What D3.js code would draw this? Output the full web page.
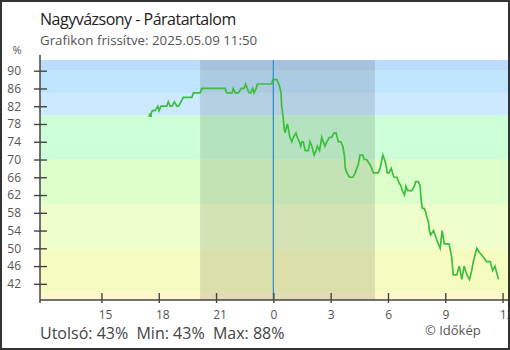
<!DOCTYPE html>
<html>
<head>
<meta charset="utf-8">
<script src="https://cdn.jsdelivr.net/npm/d3@7"></script>
<style>
  html, body { margin: 0; padding: 0; background: #fff; }
  svg { display: block; font-family: "Open Sans", "Noto Sans", sans-serif; }
</style>
</head>
<body>
<svg id="chart" width="510" height="350"></svg>
<script>
// Relative humidity readings, Nagyvázsony (local time, %)
const times = [
  "05-08 17:33","05-08 17:40","05-08 17:48","05-08 17:57","05-08 18:01","05-08 18:07","05-08 18:25","05-08 18:30",
  "05-08 18:36","05-08 18:42","05-08 18:49","05-08 18:57","05-08 19:02","05-08 19:10","05-08 19:17","05-08 19:44",
  "05-08 19:49","05-08 20:10","05-08 20:15","05-08 21:28","05-08 21:34","05-08 21:50","05-08 21:54","05-08 22:00",
  "05-08 22:10","05-08 22:19","05-08 22:28","05-08 22:33","05-08 22:38","05-08 22:44","05-08 22:49","05-08 22:55",
  "05-08 22:59","05-08 23:06","05-08 23:10","05-08 23:55","05-08 23:58","05-09 00:11","05-09 00:17","05-09 00:21",
  "05-09 00:24","05-09 00:26","05-09 00:30","05-09 00:34","05-09 00:37","05-09 00:40","05-09 00:44","05-09 00:47",
  "05-09 00:52","05-09 00:58","05-09 01:03","05-09 01:11","05-09 01:15","05-09 01:22","05-09 01:26","05-09 01:30",
  "05-09 01:34","05-09 01:40","05-09 01:50","05-09 01:55","05-09 02:01","05-09 02:08","05-09 02:14","05-09 02:18",
  "05-09 02:25","05-09 02:32","05-09 02:37","05-09 02:42","05-09 02:48","05-09 02:56","05-09 03:03","05-09 03:11",
  "05-09 03:17","05-09 03:24","05-09 03:32","05-09 03:38","05-09 03:43","05-09 03:46","05-09 03:51","05-09 03:59",
  "05-09 04:10","05-09 04:17","05-09 04:22","05-09 04:27","05-09 04:32","05-09 04:41","05-09 04:45","05-09 04:53",
  "05-09 05:02","05-09 05:09","05-09 05:14","05-09 05:29","05-09 05:35","05-09 05:41","05-09 05:44","05-09 05:49",
  "05-09 05:53","05-09 05:58","05-09 06:03","05-09 06:10","05-09 06:14","05-09 06:19","05-09 06:28","05-09 06:33",
  "05-09 06:41","05-09 06:45","05-09 06:52","05-09 06:56","05-09 07:02","05-09 07:09","05-09 07:15","05-09 07:23",
  "05-09 07:27","05-09 07:35","05-09 07:41","05-09 07:44","05-09 07:48","05-09 07:54","05-09 07:59","05-09 08:02",
  "05-09 08:07","05-09 08:10","05-09 08:14","05-09 08:23","05-09 08:28","05-09 08:33","05-09 08:38","05-09 08:44",
  "05-09 08:50","05-09 08:57","05-09 09:12","05-09 09:20","05-09 09:25","05-09 09:36","05-09 09:44","05-09 09:52",
  "05-09 09:59","05-09 10:08","05-09 10:16","05-09 10:23","05-09 10:28","05-09 10:39","05-09 10:48","05-09 11:00",
  "05-09 11:10","05-09 11:21","05-09 11:29","05-09 11:36","05-09 11:47"
];
const humidity = [
  80,81,81,82,81,82,82,83,
  82,82,83,82,82,83,84,84,
  85,85,86,86,85,85,86,85,
  85,86,86,87,86,85,85,86,
  85,86,87,87,88,88,87,86,
  85,82,80,77,76,77,78,77,
  75,74,75,76,75,74,73,74,
  74,72,72,74,73,71,72,73,
  72,75,74,73,74,75,75,76,
  76,74,74,73,71,68,67,66,
  66,67,68,69,71,71,70,70,
  69,68,67,67,68,70,71,70,
  69,67,67,68,67,66,66,65,
  64,63,62,64,63,63,63,64,
  65,65,64,61,59,59,58,57,
  56,54,53,54,53,52,51,50,
  54,51,51,48,44,44,46,43,
  46,44,43,45,47,50,49,48,
  47,47,45,46,43
];

// Humidity bands behind the plot (lower bound of each band and its fill)
const bandLows   = [0, 40, 50, 60, 70, 80, 85, 90];
const bandColors = ["#fff6cc", "#f6fcc0", "#eeffcc", "#ddffcc", "#ccffd7", "#cce9ff", "#bfe4fd", "#bbdcfa"];

const yTicks = [42, 46, 50, 54, 58, 62, 66, 70, 74, 78, 82, 86, 90];
const xTickHours = ["05-08 15:00","05-08 18:00","05-08 21:00","05-09 00:00","05-09 03:00","05-09 06:00","05-09 09:00","05-09 12:00"];

const nightStart = "05-08 20:10";
const nightEnd   = "05-09 05:19";
const midnight   = "05-09 00:00";
const viewStart  = "05-08 11:47";
const viewEnd    = "05-09 12:17";

const parse = d3.timeParse("%Y-%m-%d %H:%M");
const t = s => parse("2025-" + s);

const series = times.map((s, i) => ({ time: t(s), value: humidity[i] }));

const svg = d3.select("#chart");
const plotL = 40, plotR = 508, plotT = 60, plotB = 300;

const x = d3.scaleTime().domain([t(viewStart), t(viewEnd)]).range([plotL, plotR]);
const y = d3.scaleLinear().domain([38.36, 92.41]).range([plotB, plotT]);

// Background bands
const plot = svg.append("g");
bandLows.forEach((lo, i) => {
  const hi = i + 1 < bandLows.length ? bandLows[i + 1] : 200;
  const y0 = Math.min(plotB, y(lo));
  const y1 = Math.max(plotT, y(hi));
  if (y0 > y1) {
    plot.append("rect")
      .attr("x", plotL).attr("y", y1)
      .attr("width", plotR - plotL).attr("height", y0 - y1)
      .attr("fill", bandColors[i]);
  }
});

// Night shading
plot.append("rect")
  .attr("x", x(t(nightStart))).attr("y", plotT)
  .attr("width", x(t(nightEnd)) - x(t(nightStart)))
  .attr("height", plotB - plotT)
  .attr("fill", "#000").attr("fill-opacity", 0.11);

// Midnight marker
plot.append("line")
  .attr("x1", x(t(midnight))).attr("x2", x(t(midnight)))
  .attr("y1", plotT).attr("y2", plotB)
  .attr("stroke", "#3a8fc6").attr("stroke-width", 1.3);

// Humidity line
const line = d3.line().x(d => x(d.time)).y(d => y(d.value));
plot.append("path")
  .datum(series)
  .attr("d", line)
  .attr("fill", "none")
  .attr("stroke", "#3dbf3d")
  .attr("stroke-width", 1.7)
  .attr("stroke-linejoin", "miter");

plot.append("rect")
  .attr("x", x(series[0].time) - 1.6).attr("y", y(series[0].value) - 1.6)
  .attr("width", 3.4).attr("height", 3.4)
  .attr("fill", "#3dbf3d");

// Y axis
const yAxis = svg.append("g")
  .attr("transform", `translate(${plotL},0)`)
  .call(d3.axisLeft(y).tickValues(yTicks).tickSize(6).tickPadding(13));
yAxis.select(".domain").remove();
yAxis.selectAll(".tick line").attr("x1", 7).attr("x2", -6).attr("stroke", "#444").attr("stroke-width", 1.4);
yAxis.selectAll(".tick text")
  .attr("fill", "#555").style("font-size", "12px").style("font-family", "'Open Sans', sans-serif");

// X axis
const xAxis = svg.append("g")
  .attr("transform", `translate(0,${plotB})`)
  .call(d3.axisBottom(x).tickValues(xTickHours.map(t)).tickFormat(d3.timeFormat("%-H")).tickSize(3));
xAxis.select(".domain").remove();
xAxis.selectAll(".tick line").attr("y1", -7).attr("y2", 3).attr("stroke", "#444").attr("stroke-width", 1.4);
xAxis.selectAll(".tick text")
  .attr("text-anchor", "start").attr("x", -3.3).attr("y", 19.3).attr("dy", 0)
  .attr("fill", "#555").style("font-size", "12px").style("font-family", "'Open Sans', sans-serif");

// Axis lines
svg.append("line").attr("x1", plotL).attr("x2", plotL).attr("y1", 55).attr("y2", 303)
  .attr("stroke", "#444").attr("stroke-width", 1.5);
svg.append("line").attr("x1", plotL).attr("x2", plotR + 2).attr("y1", plotB).attr("y2", plotB)
  .attr("stroke", "#444").attr("stroke-width", 1.5);

// Texts
svg.append("text").attr("x", 40).attr("y", 25)
  .attr("fill", "#222").style("font-size", "16px").style("letter-spacing", "-0.5px")
  .text("Nagyvázsony - Páratartalom");
svg.append("text").attr("x", 40).attr("y", 45)
  .attr("fill", "#555").style("font-size", "13.3px")
  .text("Grafikon frissítve: 2025.05.09 11:50");
svg.append("text").attr("x", 17).attr("y", 54).attr("text-anchor", "middle")
  .attr("fill", "#555").style("font-size", "11px")
  .text("%");

const last = humidity[humidity.length - 1];
const minV = d3.min(humidity), maxV = d3.max(humidity);
const gap = "\u00a0 ";
svg.append("text").attr("x", 40).attr("y", 339)
  .attr("fill", "#444").style("font-size", "16px")
  .text(`Utolsó: ${last}%${gap}Min: ${minV}%${gap}Max: ${maxV}%`);
svg.append("text").attr("x", 425).attr("y", 335)
  .attr("fill", "#555").style("font-size", "13px")
  .text("© Időkép");

// Frame
svg.append("rect").attr("x", 1).attr("y", 1).attr("width", 508).attr("height", 348)
  .attr("fill", "none").attr("stroke", "#333").attr("stroke-width", 2);
</script>
</body>
</html>
